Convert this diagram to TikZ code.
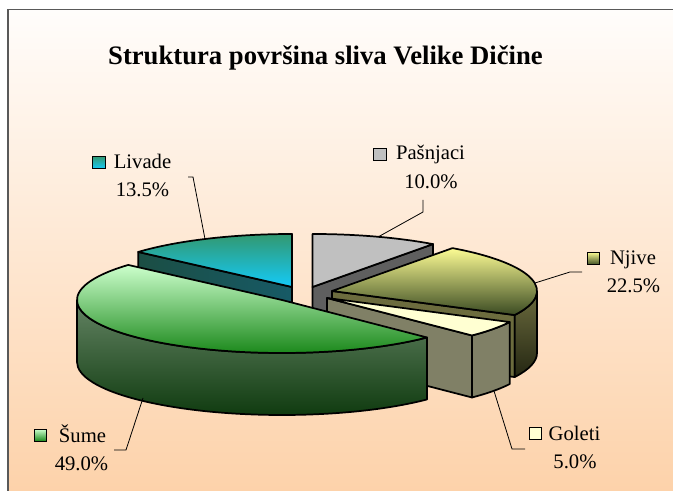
\documentclass[tikz,border=0pt]{standalone}
\usepackage{fontspec}
\setmainfont{Liberation Serif}
\usepackage{tikz}
\usetikzlibrary{positioning}

\definecolor{bgtop}{RGB}{255,253,251}
\definecolor{bgbot}{RGB}{253,210,170}
\definecolor{livtop}{RGB}{50,152,112}
\definecolor{livbot}{RGB}{20,202,248}
\definecolor{livside}{RGB}{27,78,68}
\definecolor{livside2}{RGB}{23,90,102}
\definecolor{pastop}{RGB}{192,192,192}
\definecolor{passide}{RGB}{95,95,95}
\definecolor{njitop}{RGB}{252,252,148}
\definecolor{njibot}{RGB}{58,74,34}
\definecolor{njiside}{RGB}{108,108,62}
\definecolor{njidark}{RGB}{36,38,18}
\definecolor{goltop}{RGB}{255,255,210}
\definecolor{golside}{RGB}{128,128,102}
\definecolor{sumtop}{RGB}{204,255,204}
\definecolor{sumbot}{RGB}{17,130,17}
\definecolor{sumside}{RGB}{100,132,100}
\definecolor{sumdark}{RGB}{12,56,12}

\begin{document}
\begin{tikzpicture}[x=0.75pt, y=0.75pt, x radius=205, y radius=53,
  face/.style={draw=black, line width=1.3pt, line join=round},
  lbl/.style={font=\rmfamily\fontsize{15.5}{18}\selectfont, inner sep=0pt, anchor=base},
  legbox/.style={draw=black, line width=0.9pt, minimum size=9.5pt, inner sep=0pt},
  leader/.style={black, line width=0.6pt}]
\useasboundingbox (0,0) rectangle (673,491);

% Background and frame
\fill[white] (0,0) rectangle (673,491);
\shade[top color=bgtop, bottom color=bgbot] (8,0) rectangle (673,481.5);
\draw[black!65, line width=1.2pt] (8,0) -- (8,481.5) -- (673,481.5);

\node[font=\rmfamily\bfseries\fontsize{20}{24}\selectfont, anchor=base] (title) at (325.5,426) {Struktura površina sliva Velike Dičine};

% Pasnjaci
\begin{scope}[shift={(312.5,204)}]
\draw[face, fill=passide] (0,0) -- (54:205 and 53) -- ++(0,-62) -- (0,-62) -- cycle;
\draw[face, fill=pastop] (0,0) -- (90:205 and 53) arc[start angle=90, end angle=54] -- cycle;
\end{scope}

% Livade
\begin{scope}[shift={(292,204)}]
\draw[face, left color=livside, right color=livside2] (0,0) -- (138.6:205 and 53) -- ++(0,-62) -- (0,-62) -- cycle;
\draw[face, top color=livtop, bottom color=livbot] (0,0) -- (90:205 and 53) arc[start angle=90, end angle=138.6] -- cycle;
\end{scope}

% Njive
\begin{scope}[shift={(332,200)}]
\draw[face, fill=njiside] (0,0) -- (-27:205 and 53) -- ++(0,-62) -- (0,-62) -- cycle;
\draw[face, top color=njiside, bottom color=njidark] (0:205 and 53) arc[start angle=0, end angle=-27] -- ++(0,-62) arc[start angle=-27, end angle=0] -- cycle;
\draw[face, top color=njitop, bottom color=njibot] (0,0) -- (54:205 and 53) arc[start angle=54, end angle=-27] -- cycle;
\end{scope}

% Goleti
\begin{scope}[shift={(327,193)}]
\draw[face, fill=golside] (0,0) -- (-45:205 and 53) -- ++(0,-62) -- (0,-62) -- cycle;
\draw[face, fill=golside] (-27:205 and 53) arc[start angle=-27, end angle=-45] -- ++(0,-62) arc[start angle=-45, end angle=-27] -- cycle;
\draw[face, fill=goltop] (0,0) -- (-27:205 and 53) arc[start angle=-27, end angle=-45] -- cycle;
\end{scope}

% Sume
\begin{scope}[shift={(282,191)}]
\draw[face, top color=sumside, bottom color=sumdark] (180:205 and 53) arc[start angle=180, end angle=315] -- ++(0,-62) arc[start angle=315, end angle=180] -- cycle;
\draw[face, top color=sumtop, bottom color=sumbot] (0,0) -- (138.6:205 and 53) arc[start angle=138.6, end angle=315] -- cycle;
\end{scope}

% Labels
\node[legbox, top color=livtop, bottom color=livbot] (livadebox) at (99,328.5) {};
\node[lbl] (livade) at (142.5,322) {Livade};
\node[lbl] (livadepct) at (142.5,294) {13.5\%};

\node[legbox, fill=pastop] (pasnjacibox) at (380,336.5) {};
\node[lbl] (pasnjaci) at (430.5,331) {Pašnjaci};
\node[lbl] (pasnjacipct) at (431,302) {10.0\%};

\node[legbox, top color=njitop, bottom color=njibot] (njivebox) at (593.5,232.5) {};
\node[lbl] (njive) at (633,226) {Njive};
\node[lbl] (njivepct) at (633.5,198) {22.5\%};

\node[legbox, fill=goltop] (goletibox) at (535.5,57.5) {};
\node[lbl] (goleti) at (574.5,50) {Goleti};
\node[lbl] (goletipct) at (575,22) {5.0\%};

\node[legbox, top color=sumtop, bottom color=sumbot] (sumebox) at (40.5,55.5) {};
\node[lbl] (sume) at (82.5,48) {Šume};
\node[lbl] (sumepct) at (81.5,20) {49.0\%};

% Leader lines
\coordinate (livadeA) at (188,314);
\coordinate (livadeB) at (205,252);
\draw[leader] (livadeA) -- (193,314) -- (livadeB);
\coordinate (pasnjaciA) at (423,291);
\coordinate (pasnjaciB) at (378,254);
\draw[leader] (pasnjaciA) -- (423,279) -- (pasnjaciB);
\coordinate (njiveA) at (582,219);
\coordinate (njiveB) at (535,208);
\draw[leader] (njiveA) -- (570,219) -- (njiveB);
\coordinate (goletiA) at (525,42);
\coordinate (goletiB) at (494,100);
\draw[leader] (goletiA) -- (512,42) -- (goletiB);
\coordinate (sumeA) at (114,41);
\coordinate (sumeB) at (143,93);
\draw[leader] (sumeA) -- (126,41) -- (sumeB);
\end{tikzpicture}
\end{document}
